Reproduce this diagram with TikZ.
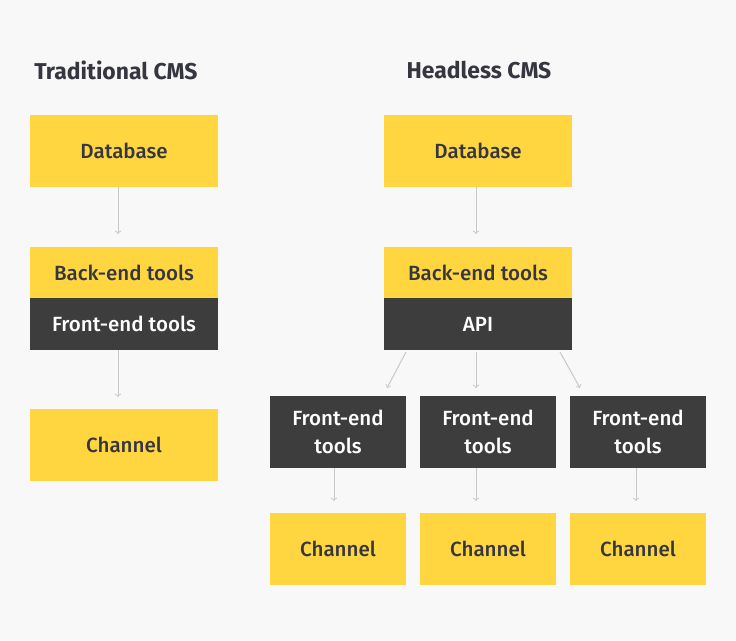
\documentclass[tikz,border=0pt]{standalone}
\usepackage{fontspec}
\setmainfont{Fira Sans}[UprightFont={* Medium}, BoldFont={* Bold}]
\usepackage{xcolor}
\usepackage{tikz}
\usetikzlibrary{positioning,arrows}
\definecolor{cmsyellow}{HTML}{FFD540}
\definecolor{cmsdark}{HTML}{3D3D3D}
\definecolor{cmstext}{HTML}{363640}
\definecolor{cmsline}{HTML}{C8C8C8}
\definecolor{cmsbg}{HTML}{F8F8F8}

\begin{document}
\begin{tikzpicture}[x=0.025cm, y=-0.025cm,
    yellowbox/.style={rectangle, fill=cmsyellow, text=cmstext, inner sep=0pt, outer sep=0pt, align=center, font=\fontsize{14.6}{17}\selectfont},
    darkbox/.style={rectangle, fill=cmsdark, text=white, inner sep=0pt, outer sep=0pt, align=center, font=\fontsize{14.6}{20}\selectfont},
    wide/.style={minimum width=4.7cm, minimum height=1.8cm},
    half/.style={minimum width=4.7cm, minimum height=1.29cm},
    small/.style={minimum width=3.4cm, minimum height=1.8cm},
    title/.style={text=cmstext, font=\fontsize{16.3}{19}\selectfont\bfseries, inner sep=0pt},
    flow/.style={->, cmsline, line width=0.7pt}]
    % background
    \fill[cmsbg] (0,0) rectangle (736,640);

    % Traditional CMS
    \node[title, anchor=west] (tradtitle) at (34,70) {Traditional CMS};
    \node[yellowbox, wide] (tdb) at (124,151) {Database};
    \node[yellowbox, half] (tback) at (124,272.5) {Back-end tools};
    \node[darkbox, half] (tfront) at (124,324) {Front-end tools};
    \node[yellowbox, wide] (tchan) at (124,445) {Channel};

    \coordinate (tdbend) at (118,234);
    \coordinate (tfrontend) at (118,397);
    \draw[flow] (tdb.south -| tdbend) -- (tdbend);
    \draw[flow] (tfront.south -| tfrontend) -- (tfrontend);

    % Headless CMS
    \node[title] (headtitle) at (479,70) {Headless CMS};
    \node[yellowbox, wide] (hdb) at (478,151) {Database};
    \node[yellowbox, half] (hback) at (478,272.5) {Back-end tools};
    \node[darkbox, half] (api) at (478,324) {API};

    \node[darkbox, small] (fa) at (338,432) {Front-end\\tools};
    \node[darkbox, small] (fb) at (488,432) {Front-end\\tools};
    \node[darkbox, small] (fc) at (638,432) {Front-end\\tools};

    \node[yellowbox, small] (ca) at (338,549) {Channel};
    \node[yellowbox, small] (cb) at (488,549) {Channel};
    \node[yellowbox, small] (cc) at (638,549) {Channel};

    % arrow ends
    \coordinate (hdbend) at (476,234);
    \coordinate (apia) at (406,352);
    \coordinate (apib) at (476,352);
    \coordinate (apic) at (560,352);
    \coordinate (faend) at (387,388);
    \coordinate (fbend) at (476,388);
    \coordinate (fcend) at (580,388);
    \coordinate (caend) at (334,501);
    \coordinate (cbend) at (476,501);
    \coordinate (ccend) at (636,501);

    \draw[flow] (hdb.south -| hdbend) -- (hdbend);
    \draw[flow] (apia) -- (faend);
    \draw[flow] (apib) -- (fbend);
    \draw[flow] (apic) -- (fcend);
    \draw[flow] (fa.south -| caend) -- (caend);
    \draw[flow] (fb.south -| cbend) -- (cbend);
    \draw[flow] (fc.south -| ccend) -- (ccend);
\end{tikzpicture}
\end{document}
